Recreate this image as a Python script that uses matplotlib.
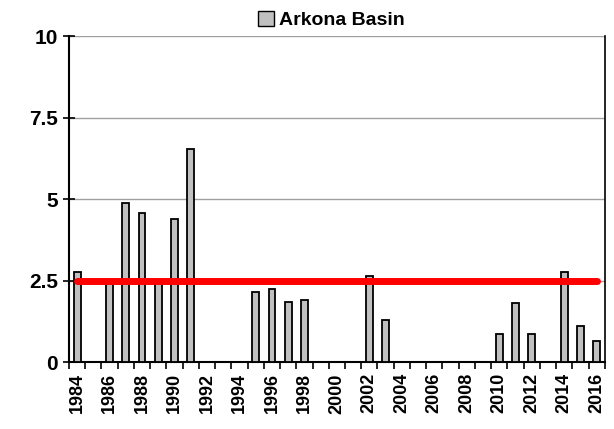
import numpy as np
import matplotlib
matplotlib.use("Agg")
import matplotlib.pyplot as plt
from matplotlib.patches import Patch

# data
years = list(range(1984, 2017))
values = [2.75, 0, 2.41, 4.87, 4.58, 2.45, 4.39, 6.53, 0, 0, 0,
          2.16, 2.25, 1.85, 1.91, 0, 0, 0, 2.65, 1.29,
          0, 0, 0, 0, 0, 0, 0.87, 1.81, 0.85, 0, 2.77, 1.11, 0.64]
mean_level = 2.5
y_ticks = [0, 2.5, 5, 7.5, 10]
y_labels = ["0", "2.5", "5", "7.5", "10"]

plt.rcParams['font.family'] = ['Liberation Sans', 'DejaVu Sans']

fig = plt.figure(figsize=(6.14, 4.29), dpi=100)
ax = fig.add_axes([0.1124, 0.156, 0.8726, 0.76])

x = np.arange(len(years))
ax.bar(x, values, width=0.42, color="#c0c0c0", edgecolor="black",
       linewidth=1.3, zorder=3)
ax.plot([x[0], x[-1]], [mean_level, mean_level], color="#ff0000",
        linewidth=5, solid_capstyle="round", zorder=4)

ax.set_xlim(-0.5, len(years) - 0.5)
ax.set_ylim(0, 10)

# y axis
ax.set_yticks(y_ticks)
ax.set_yticklabels(y_labels, fontsize=15, fontweight="bold")
ax.tick_params(axis="y", direction="inout", length=8, width=1.2, pad=4)
for v in y_ticks[1:]:
    ax.axhline(v, color="#a0a0a0", linewidth=1, zorder=1)

# x axis: labels every other year, tick marks between categories
ax.set_xticks(x[::2])
ax.set_xticklabels([str(y) for y in years[::2]], rotation=90,
                   fontsize=13, fontweight="bold")
ax.tick_params(axis="x", length=0, pad=8)
ax.set_xticks(np.arange(-0.5, len(years)), minor=True)
ax.tick_params(axis="x", which="minor", direction="out", length=5, width=1.2)

ax.spines["top"].set_visible(False)
ax.spines["left"].set_linewidth(1.5)
ax.spines["bottom"].set_linewidth(1.5)
ax.spines["right"].set_linewidth(1.2)

leg = fig.legend(handles=[Patch(facecolor="#c0c0c0", edgecolor="black",
                                label="Arkona Basin")],
                 loc="upper center", bbox_to_anchor=(0.54, 1.015),
                 frameon=False, handlelength=0.8, handleheight=0.8,
                 handletextpad=0.3, prop={"weight": "bold", "size": 14})

fig.savefig("out.png", dpi=100)
